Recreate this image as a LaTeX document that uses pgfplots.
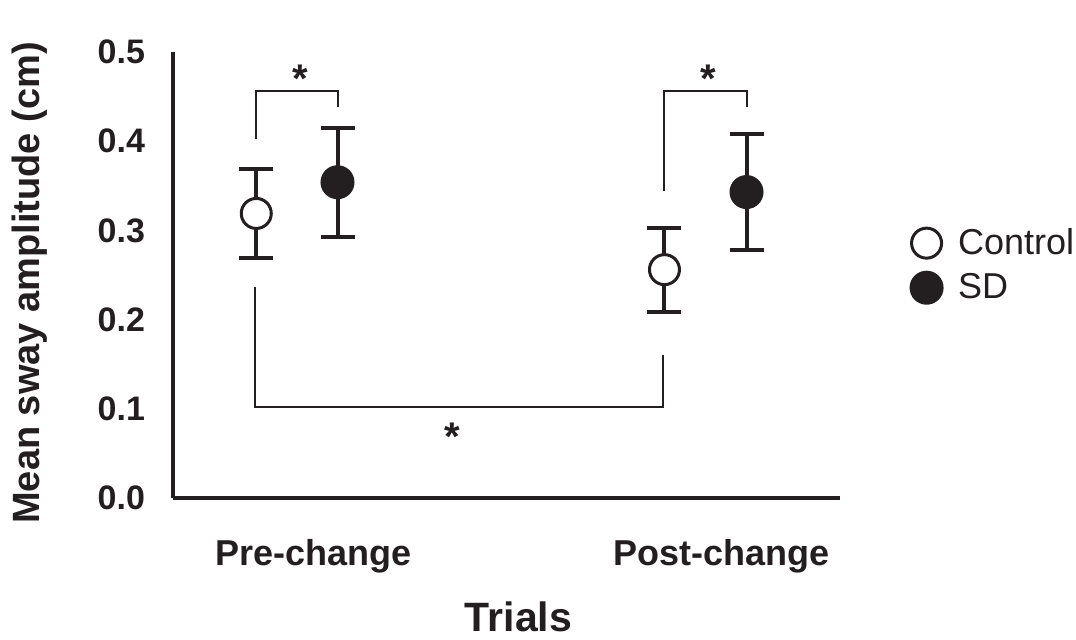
\documentclass[border=0pt]{standalone}
\usepackage{fontspec}
\setmainfont{Liberation Sans}
\usepackage{pgfplots}
\pgfplotsset{compat=1.18}
\definecolor{ink}{HTML}{231F20}

\begin{document}
\begin{tikzpicture}
\begin{axis}[
  name=main,
  scale only axis,
  width=333.5bp, height=223bp,
  xmin=-0.344, xmax=1.290,
  ymin=0, ymax=0.5,
  clip=false,
  axis x line=bottom, axis y line=left,
  axis line style={-, line width=2bp, draw=ink},
  xtick={0,1}, xticklabels={Pre-change,Post-change},
  ytick={0,0.1,0.2,0.3,0.4,0.5},
  yticklabels={0.0,0.1,0.2,0.3,0.4,0.5},
  major tick length=0pt,
  tick style={draw=none},
  yticklabel style={font=\bfseries\fontsize{17bp}{17bp}\selectfont, text=ink, xshift=-10.5bp},
  xticklabel style={font=\bfseries\fontsize{18bp}{18bp}\selectfont, text=ink, yshift=-17bp},
  xlabel={Trials},
  xlabel style={at={(axis description cs:0.5,0)}, anchor=north, inner sep=0pt, yshift=-51.5bp, xshift=6bp, font=\bfseries\fontsize{20.5bp}{20.5bp}\selectfont, text=ink},
  ylabel={Mean sway amplitude (cm)},
  ylabel style={at={(axis description cs:-0.2144,0.482)}, anchor=center, rotate=0, font=\bfseries\fontsize{19bp}{19bp}\selectfont, text=ink},
  legend style={draw=none, fill=none, at={(axis description cs:1.097,0.522)}, anchor=west, font=\fontsize{18bp}{18bp}\selectfont, text=ink, row sep=4bp, column sep=6bp},
  legend cell align=left,
]
% Control
\addplot[only marks, mark=*, mark size=7.5bp,
  mark options={fill=white, draw=ink, line width=1.5bp},
  error bars/.cd, y dir=both, y explicit,
  error bar style={line width=2bp, draw=ink},
  error mark options={rotate=90, mark size=8.5bp, line width=2bp, draw=ink}]
  table[x=x, y=y, y error plus=e, y error minus=e] {
x       y      e
-0.140  0.319  0.050
0.860   0.256  0.047
};
\addlegendentry{Control}
% SD
\addplot[only marks, mark=*, mark size=7.75bp,
  mark options={fill=ink, draw=ink, line width=1.5bp},
  error bars/.cd, y dir=both, y explicit,
  error bar style={line width=2bp, draw=ink},
  error mark options={rotate=90, mark size=8.5bp, line width=2bp, draw=ink}]
  table[x=x, y=y, y error plus=e, y error minus=e] {
x       y      e
0.059   0.354  0.061
1.061   0.343  0.065
};
\addlegendentry{SD}

% significance brackets
\draw[ink, line width=1bp] (axis cs:-0.140,0.402) |- (axis cs:0.059,0.456) -- (axis cs:0.059,0.438);
\draw[ink, line width=1bp] (axis cs:0.860,0.344) |- (axis cs:1.061,0.456) -- (axis cs:1.061,0.438);
\draw[ink, line width=1bp] (axis cs:-0.1425,0.236) |- (axis cs:0.8575,0.102) -- (axis cs:0.8575,0.160);
\node[font=\bfseries\fontsize{20bp}{20bp}\selectfont, text=ink, yshift=-2.5bp] at (axis cs:-0.032,0.476) {*};
\node[font=\bfseries\fontsize{20bp}{20bp}\selectfont, text=ink, yshift=-2.5bp] at (axis cs:0.968,0.476) {*};
\node[font=\bfseries\fontsize{20bp}{20bp}\selectfont, text=ink, yshift=-2bp] at (axis cs:0.339,0.073) {*};
\end{axis}
\pgfresetboundingbox
\path[use as bounding box] ([xshift=-86.5bp, yshift=-71bp]main.south west) rectangle ++(538bp,320bp);
\end{tikzpicture}
\end{document}
